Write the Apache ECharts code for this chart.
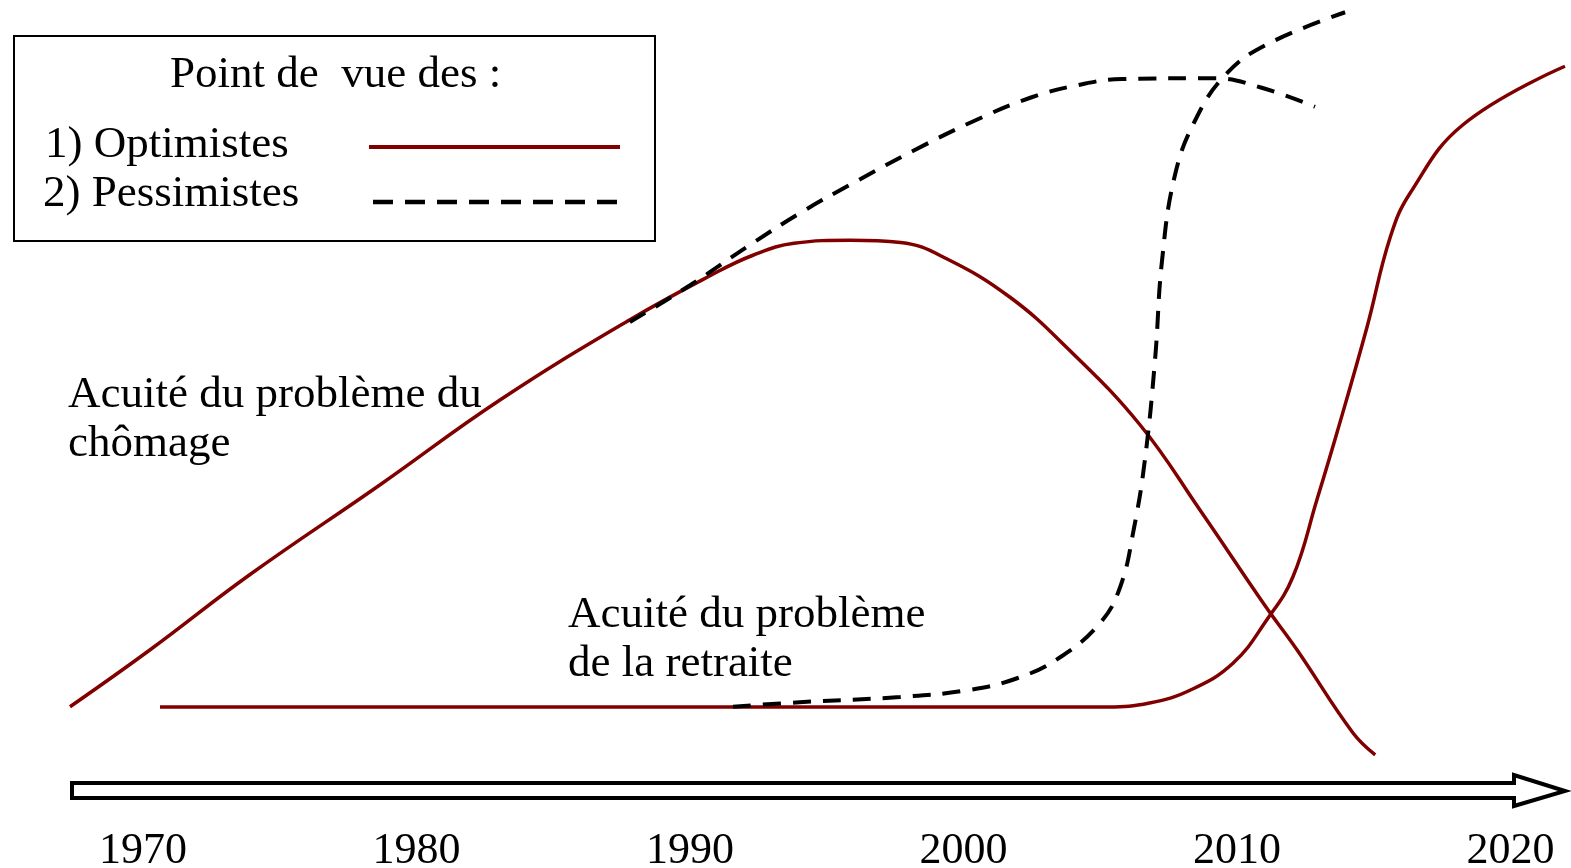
<!DOCTYPE html>
<html>
<head>
    <meta charset="utf-8">
    <title>Acuité des problèmes</title>
    <script src="https://cdn.jsdelivr.net/npm/echarts@6.0.0/dist/echarts.min.js"></script>
    <style>
        html, body { margin: 0; padding: 0; background: #fff; }
        #chart { width: 1571px; height: 868px; }
    </style>
</head>
<body>
    <div id="chart"></div>
    <script>
        // années affichées sous la flèche du temps
        var yearTicks = [1970, 1980, 1990, 2000, 2010, 2020];

        // acuité du problème du chômage : [année, acuité]
        var chomageOptimistes = [
            [1967.33, 7.1], [1970.26, 14.7], [1973.9, 24.7], [1978.67, 36.7],
            [1983.05, 48.0], [1987.8, 58.7], [1990.8, 64.7], [1992.3, 67.3],
            [1993.8, 68.9], [1995.85, 69.3], [1997.7, 69.0], [1999.4, 66.8],
            [2001.7, 61.7], [2003.8, 54.9], [2006.45, 44.7], [2008.65, 33.3],
            [2011.0, 20.7], [2012.19, 14.7], [2014.24, 3.6], [2015.05, 0.7]
        ];
        var chomagePessimistes = [
            [1987.8, 58.4], [1990.0, 63.3], [1992.2, 68.7], [1994.1, 73.1],
            [1996.15, 77.3], [1998.2, 81.3], [2000.32, 85.1], [2002.44, 88.3],
            [2004.2, 90.0], [2005.8, 90.8], [2009.2, 90.9], [2010.84, 89.7],
            [2012.85, 87.1]
        ];

        // acuité du problème de la retraite
        var retraiteOptimistes = [
            [1970.62, 7.07], [2005.28, 7.07], [2006.8, 7.6], [2008.28, 9.3],
            [2009.85, 12.9], [2011.09, 18.7], [2012.04, 24.4], [2012.92, 34.7],
            [2013.65, 43.6], [2014.75, 57.7], [2015.6, 69.7], [2016.33, 75.6],
            [2018.26, 84.7], [2021.99, 92.5]
        ];
        var retraitePessimistes = [
            [1991.57, 7.1], [1994.0, 7.7], [1997.68, 8.4], [2000.13, 9.3],
            [2001.96, 10.9], [2003.53, 13.7], [2005.0, 18.3], [2005.73, 23.1],
            [2006.22, 30.7], [2006.63, 40.0], [2007.0, 53.3], [2007.26, 66.7],
            [2007.73, 78.0], [2008.47, 85.3], [2009.56, 91.3], [2011.03, 95.3],
            [2013.95, 99.7]
        ];

        var ROUGE = '#800000';
        var FONT = '"Liberation Serif", "Times New Roman", serif';
        var TXT = '45px ' + FONT;

        function courbe(nom, data, pessimiste) {
            return {
                name: nom,
                type: 'line',
                data: data,
                smooth: 0.42,
                showSymbol: false,
                silent: true,
                lineStyle: pessimiste
                    ? { color: '#000', width: 4, type: [18, 12] }
                    : { color: ROUGE, width: 3.5 }
            };
        }

        var chart = echarts.init(document.getElementById('chart'));
        chart.setOption({
            animation: false,
            backgroundColor: '#fff',
            grid: { left: 70, right: 3, top: 10, bottom: 108, outerBoundsMode: 'none', containLabel: false },
            xAxis: {
                type: 'value',
                min: 1967.33,
                max: 2022.1,
                axisLine: { show: false },
                axisTick: { show: false },
                splitLine: { show: false },
                axisLabel: {
                    customValues: yearTicks,
                    formatter: function (v) { return String(v); },
                    margin: 69,
                    fontFamily: FONT,
                    fontSize: 44,
                    lineHeight: 44,
                    color: '#000'
                }
            },
            yAxis: {
                type: 'value',
                min: 0,
                max: 100,
                show: false
            },
            series: [
                courbe('Chômage (optimistes)', chomageOptimistes, false),
                courbe('Retraite (optimistes)', retraiteOptimistes, false),
                courbe('Chômage (pessimistes)', chomagePessimistes, true),
                courbe('Retraite (pessimistes)', retraitePessimistes, true)
            ],
            graphic: [
                // flèche du temps
                {
                    type: 'polygon',
                    shape: {
                        points: [[72, 783], [1514, 783], [1514, 775], [1565, 791],
                                 [1514, 806], [1514, 798], [72, 798]]
                    },
                    style: { fill: '#fff', stroke: '#000', lineWidth: 4 },
                    z: 100
                },
                // cadre de la légende
                {
                    type: 'rect',
                    shape: { x: 14, y: 36, width: 641, height: 205 },
                    style: { fill: '#fff', stroke: '#000', lineWidth: 2 },
                    z: 100
                },
                {
                    type: 'text', x: 170, y: 51, z: 101,
                    style: { text: 'Point de  vue des :', font: TXT, lineHeight: 48, fill: '#000', verticalAlign: 'top' }
                },
                {
                    type: 'text', x: 45, y: 121, z: 101,
                    style: { text: '1) Optimistes', font: TXT, lineHeight: 48, fill: '#000', verticalAlign: 'top' }
                },
                {
                    type: 'text', x: 43, y: 170, z: 101,
                    style: { text: '2) Pessimistes', font: TXT, lineHeight: 48, fill: '#000', verticalAlign: 'top' }
                },
                {
                    type: 'line', z: 101,
                    shape: { x1: 369, y1: 147, x2: 620, y2: 147 },
                    style: { stroke: ROUGE, lineWidth: 4 }
                },
                {
                    type: 'line', z: 101,
                    shape: { x1: 373, y1: 202, x2: 620, y2: 202 },
                    style: { stroke: '#000', lineWidth: 4.5, lineDash: [20, 12] }
                },
                // étiquettes des courbes
                {
                    type: 'text', x: 68, y: 371, z: 101,
                    style: { text: 'Acuité du problème du\nchômage', font: TXT, lineHeight: 49, fill: '#000', verticalAlign: 'top' }
                },
                {
                    type: 'text', x: 568, y: 591, z: 101,
                    style: { text: 'Acuité du problème\nde la retraite', font: TXT, lineHeight: 49, fill: '#000', verticalAlign: 'top' }
                }
            ]
        });

        window.addEventListener('resize', function () { chart.resize(); });
    </script>
</body>
</html>
